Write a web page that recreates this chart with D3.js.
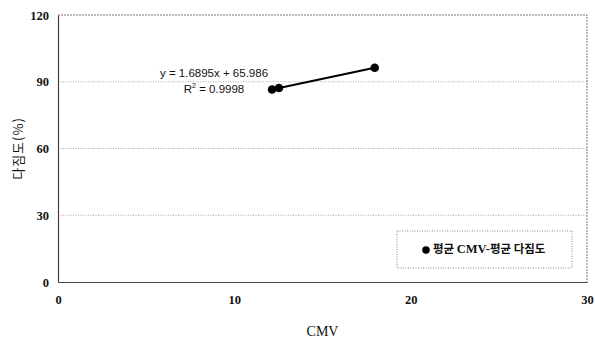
<!DOCTYPE html>
<html>
<head>
<meta charset="utf-8">
<script src="https://cdn.jsdelivr.net/npm/d3@7"></script>
<style>
  html, body { margin: 0; padding: 0; background: #fff; }
  svg { display: block; }
</style>
</head>
<body>
<svg id="chart" width="595" height="343"></svg>
<script>
// Average CMV vs. average compaction degree
const cmvValues = [12.14, 12.53, 17.96];
const compactionValues = [86.5, 87.2, 96.3];
const xTicks = [0, 10, 20, 30];
const yTicks = [0, 30, 60, 90, 120];
const slope = 1.6895;
const intercept = 65.986;
const equationText = "y = 1.6895x + 65.986";
const r2Value = "0.9998";
const seriesParts = ["평균 ", "CMV-", "평균 다짐도"];
const xTitle = "CMV";
const yTitle = "다짐도(%)";

const svg = d3.select("#chart");
const margin = { left: 58, right: 8, top: 15, bottom: 61 };
const W = 595, H = 343;
const x = d3.scaleLinear().domain([0, 30]).range([margin.left, W - margin.right]);
const y = d3.scaleLinear().domain([0, 120]).range([H - margin.bottom, margin.top]);

const serif = "'Liberation Serif', 'DejaVu Serif', serif";
const sans = "'Liberation Sans', Arial, sans-serif";
const kr = "'Noto Sans CJK KR', sans-serif";

// gridlines
svg.append("g").selectAll("line")
  .data(yTicks.filter(d => d > 0 && d < 120))
  .join("line")
  .attr("x1", x(0)).attr("x2", x(30))
  .attr("y1", d => y(d)).attr("y2", d => y(d))
  .attr("stroke", "#aaa").attr("stroke-width", 1)
  .attr("stroke-dasharray", "1,1.5");

// plot border: top/right dotted
svg.append("path")
  .attr("d", `M${x(0)},${y(120)}H${x(30)}V${y(0)}`)
  .attr("fill", "none").attr("stroke", "#777").attr("stroke-width", 1)
  .attr("stroke-dasharray", "2,1");

// axes
const xAxis = d3.axisBottom(x).tickValues(xTicks).tickSize(0).tickPadding(13);
const yAxis = d3.axisLeft(y).tickValues(yTicks).tickSize(0).tickPadding(9);

const gx = svg.append("g").attr("transform", `translate(0,${y(0)})`).call(xAxis);
const gy = svg.append("g").attr("transform", `translate(${x(0)},0)`).call(yAxis);
[gx, gy].forEach(g => {
  g.select(".domain").attr("stroke", "#444").attr("stroke-width", 1.2);
  g.selectAll("text").attr("font-family", serif).attr("font-size", 12.5)
    .attr("font-weight", "bold").attr("fill", "#111");
});

// axis titles
svg.append("text")
  .attr("x", (x(0) + x(30)) / 2).attr("y", 333)
  .attr("text-anchor", "middle").attr("dominant-baseline", "middle")
  .attr("font-family", serif).attr("font-size", 14).attr("fill", "#111")
  .text(xTitle);

svg.append("text")
  .attr("transform", `translate(19,${(y(0) + y(120)) / 2}) rotate(-90)`)
  .attr("text-anchor", "middle").attr("dominant-baseline", "middle")
  .attr("font-family", kr).attr("font-size", 13).attr("letter-spacing", 1).attr("fill", "#111")
  .text(yTitle);

// linear trendline over the data range
const xMin = d3.min(cmvValues), xMax = d3.max(cmvValues);
svg.append("line")
  .attr("x1", x(xMin)).attr("y1", y(slope * xMin + intercept))
  .attr("x2", x(xMax)).attr("y2", y(slope * xMax + intercept))
  .attr("stroke", "#000").attr("stroke-width", 2);

// data points
svg.append("g").selectAll("circle")
  .data(cmvValues.map((v, i) => [v, compactionValues[i]]))
  .join("circle")
  .attr("cx", d => x(d[0])).attr("cy", d => y(d[1]))
  .attr("r", 4.3).attr("fill", "#000");

// trendline equation
svg.append("text")
  .attr("x", 214).attr("y", 77)
  .attr("text-anchor", "middle")
  .attr("font-family", sans).attr("font-size", 11.5).attr("fill", "#111")
  .text(equationText);
const r2 = svg.append("text")
  .attr("x", 214).attr("y", 93)
  .attr("text-anchor", "middle")
  .attr("font-family", sans).attr("font-size", 11.5).attr("fill", "#111");
r2.append("tspan").text("R");
r2.append("tspan").attr("dy", -5).attr("font-size", 7).text("2");
r2.append("tspan").attr("dy", 5).text(" = " + r2Value);

// legend
const lg = svg.append("g");
lg.append("rect")
  .attr("x", 397).attr("y", 231).attr("width", 175).attr("height", 37)
  .attr("fill", "#fff").attr("stroke", "#888").attr("stroke-width", 1)
  .attr("stroke-dasharray", "1,1.5");
lg.append("circle").attr("cx", 426).attr("cy", 250).attr("r", 3.8).attr("fill", "#000");
const lt = lg.append("text")
  .attr("x", 433).attr("y", 250)
  .attr("dominant-baseline", "middle")
  .attr("font-size", 11.5).attr("font-weight", "bold").attr("fill", "#111");
seriesParts.forEach((p, i) => {
  lt.append("tspan")
    .attr("font-family", i === 1 ? serif : kr)
    .attr("font-size", i === 1 ? 12.5 : 11.5)
    .text(p);
});
</script>
</body>
</html>
